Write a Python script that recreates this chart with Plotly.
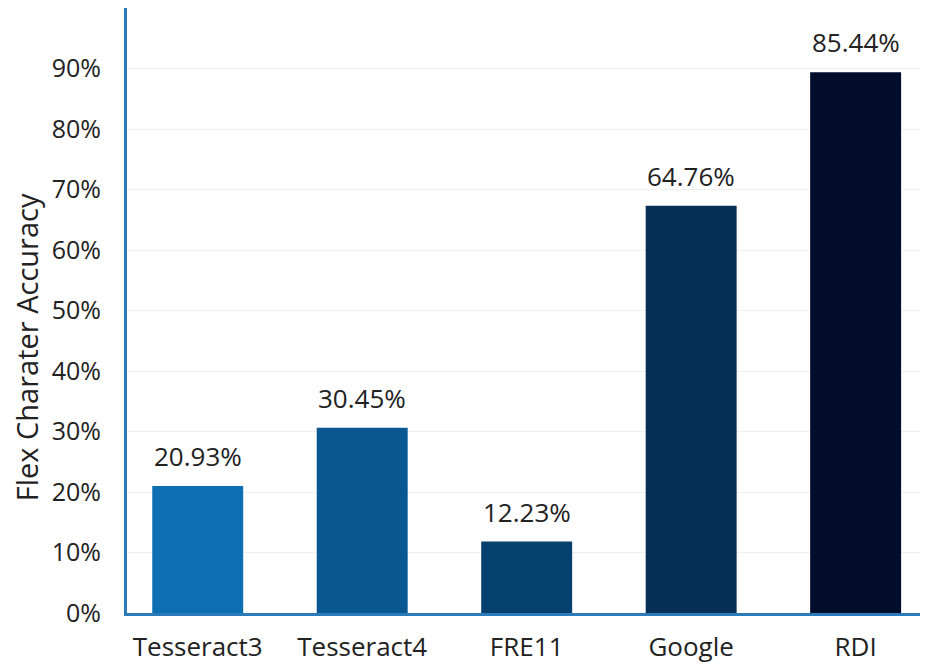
import plotly.graph_objects as go

categories = ["Tesseract3", "Tesseract4", "FRE11", "Google", "RDI"]
bar_values = [21.0, 30.6, 11.8, 67.3, 89.4]
value_labels = ["20.93%", "30.45%", "12.23%", "64.76%", "85.44%"]
bar_colors = ["#0b6fb1", "#0a5892", "#06416e", "#052f55", "#010d2a"]
tick_values = [0, 10, 20, 30, 40, 50, 60, 70, 80, 90, 100]
tick_labels = ["0%", "10%", "20%", "30%", "40%", "50%", "60%", "70%", "80%", "90%", ""]
y_title = "Flex Charater Accuracy"

FONT = "Open Sans"
TXT = "#222222"

fig = go.Figure()
fig.add_trace(go.Bar(
    x=categories, y=bar_values,
    marker=dict(color=bar_colors, line=dict(width=0)),
    width=0.553,
    hoverinfo="skip",
))

for c, v, t in zip(categories, bar_values, value_labels):
    fig.add_annotation(x=c, y=v, text=t, showarrow=False, yanchor="middle",
                       yshift=30, font=dict(family=FONT, size=26, color=TXT))

fig.add_annotation(xref="paper", yref="paper", x=-0.1255, y=0.44, text=y_title,
                   textangle=-90, showarrow=False, xanchor="center", yanchor="middle",
                   font=dict(family=FONT, size=29, color=TXT))

fig.update_layout(
    width=920, height=658,
    margin=dict(l=119, r=0, t=0, b=53),
    paper_bgcolor="white", plot_bgcolor="white",
    showlegend=False,
    xaxis=dict(range=[-0.43, 4.44], showline=True, linecolor="#2b7bba", linewidth=3,
               showgrid=False, ticks="", tickfont=dict(family=FONT, size=26, color=TXT),
               ticklabelstandoff=9),
    yaxis=dict(range=[0, 100], tickvals=tick_values, ticktext=tick_labels,
               showline=True, linecolor="#2b7bba", linewidth=3,
               showgrid=True, gridcolor="#f0f0f0", gridwidth=1, zeroline=False,
               ticks="", tickfont=dict(family=FONT, size=25, color=TXT),
               ticklabelstandoff=18),
)

fig.write_html("out.html")
